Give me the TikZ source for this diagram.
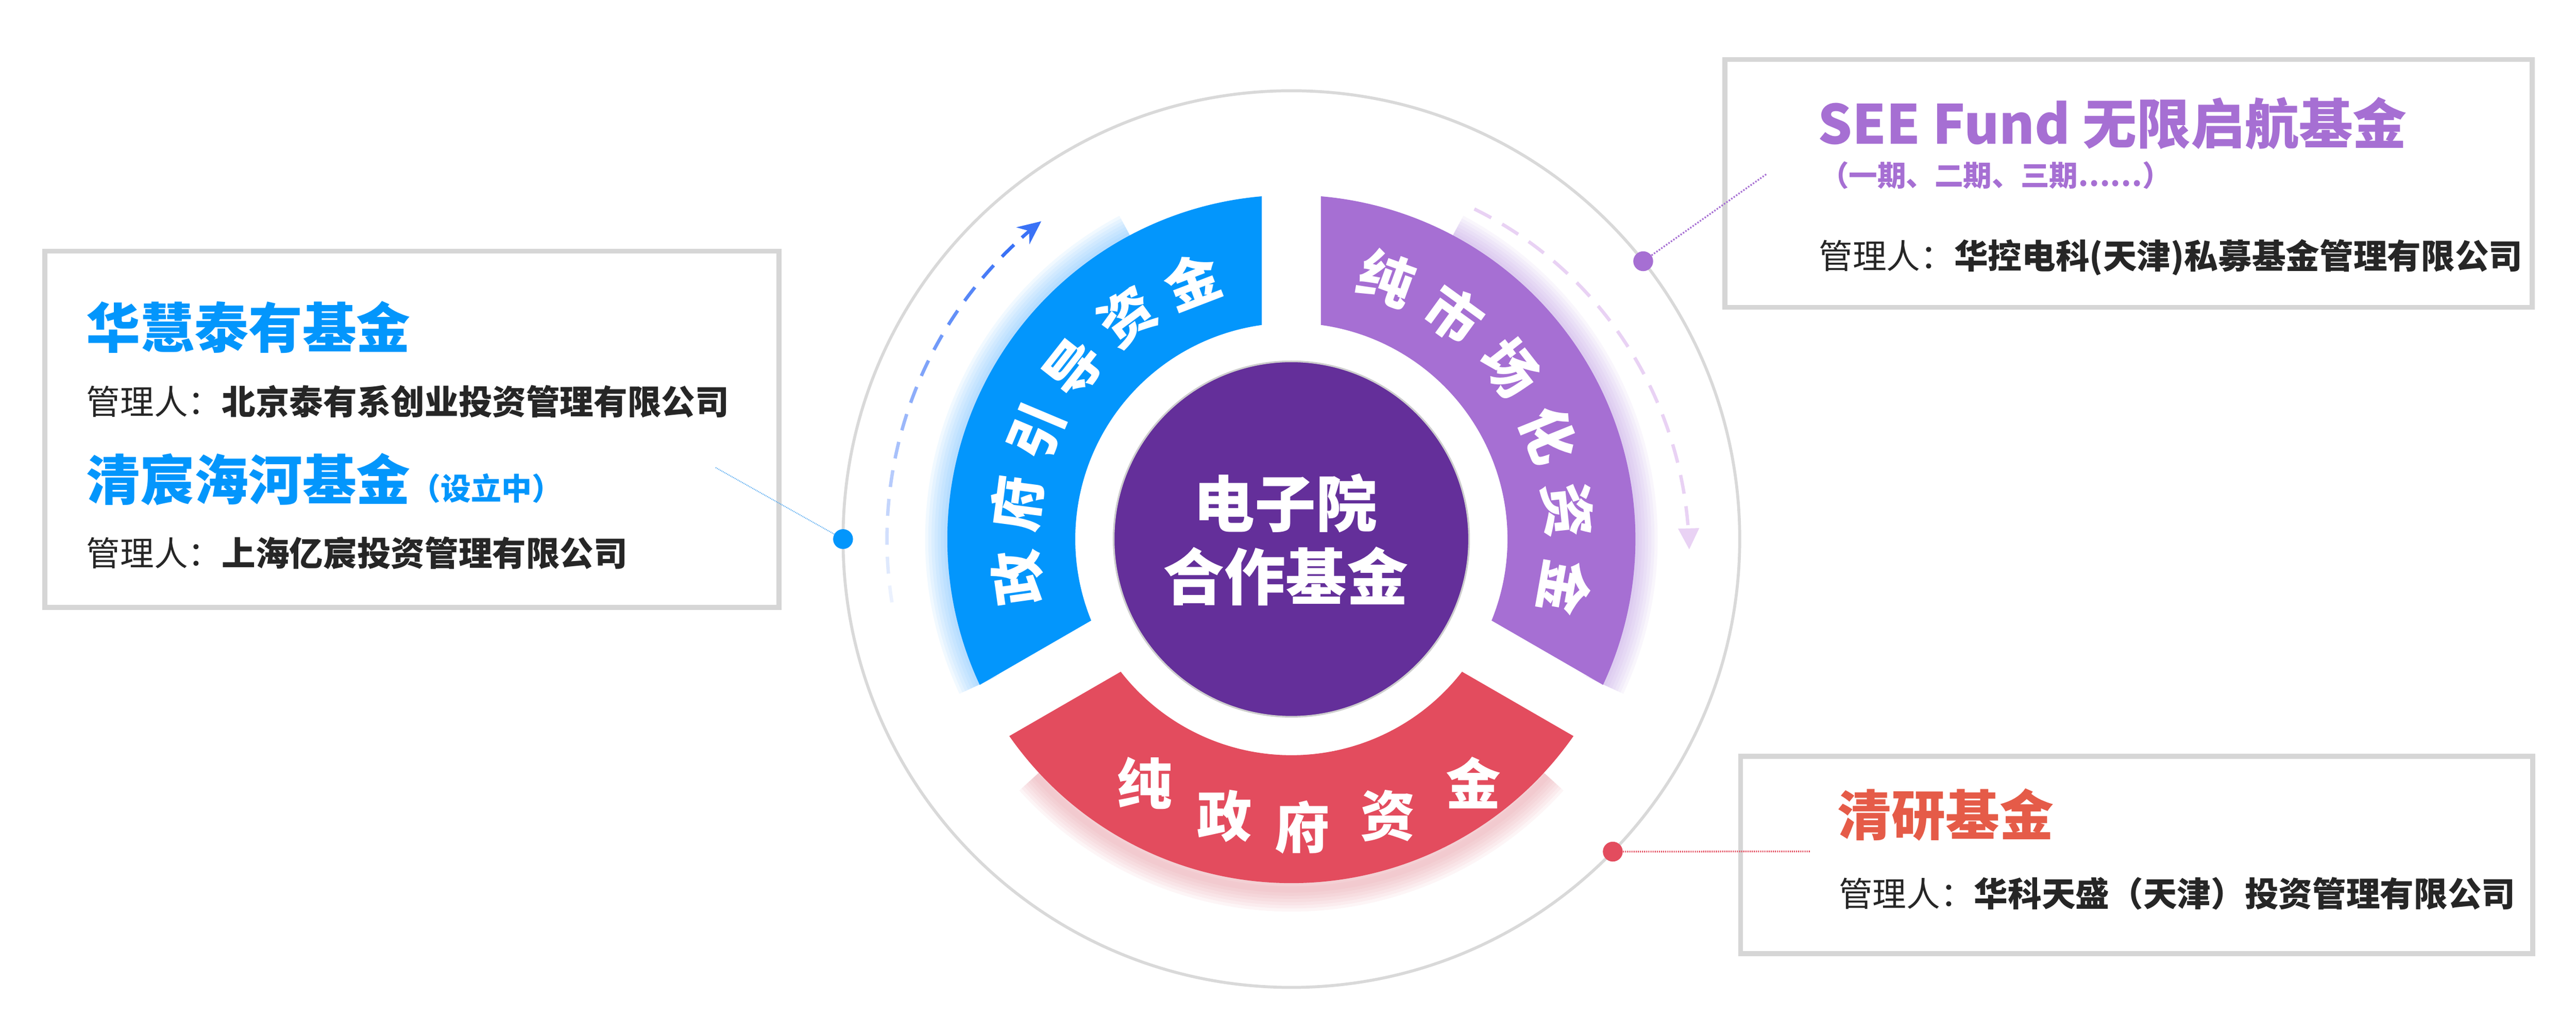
\documentclass[tikz,border=0pt]{standalone}
\usepackage{fontspec}
\newfontfamily\cjk{Noto Sans CJK SC}
\usetikzlibrary{arrows.meta,calc}
\definecolor{segblue}{RGB}{3,150,252}
\definecolor{segpurple}{RGB}{166,111,211}
\definecolor{segred}{RGB}{227,76,94}
\definecolor{corecol}{RGB}{100,47,154}
\definecolor{ringgray}{RGB}{217,217,217}
\definecolor{boxgray}{RGB}{214,214,214}
\definecolor{txtdark}{RGB}{38,38,38}
\definecolor{titlered}{RGB}{229,91,72}
\definecolor{arrowblue}{RGB}{58,114,246}
\definecolor{dashpurple}{RGB}{233,210,244}
\definecolor{glowblue}{RGB}{110,190,255}
\definecolor{glowpurple}{RGB}{185,145,228}
\definecolor{glowred}{RGB}{232,140,152}
\definecolor{linkblue}{RGB}{90,172,240}
\tikzset{
  infobox/.style={draw=boxgray, line width=0.12cm, fill=white, inner sep=0pt},
  fundtitle/.style={anchor=west, inner sep=0pt, font=\cjk\bfseries\fontsize{36.4}{40}\selectfont},
  mgrline/.style={anchor=west, inner sep=0pt, font=\cjk\fontsize{22.8}{26}\selectfont, text=txtdark},
  ringtxt/.style={inner sep=0pt, text=white, font=\cjk\bfseries\fontsize{37}{40}\selectfont},
  coretxt/.style={inner sep=0pt, text=white, font=\cjk\bfseries\fontsize{41.3}{46}\selectfont},
  linkdot/.style={circle, inner sep=0pt, minimum size=0.47cm},
  linkline/.style={line width=0.04cm, dash pattern=on 0.035cm off 0.035cm},
}
\begin{document}
\begin{tikzpicture}
\useasboundingbox (0,0) rectangle (61.02,24.08);
\fill[white] (0,0) rectangle (61.02,24.08);
\coordinate (C) at (30.59,11.31);

% outer thin ring
\draw[ringgray, line width=0.07cm] (C) circle[radius=10.62];

\begin{scope}[shift={(30.59,11.31)}]
  % glows
  \foreach \w in {0.15,0.3,...,1.1}{
    \draw[glowblue, line width=\w cm, opacity=0.09, line cap=butt] (118:8.15) arc[start angle=118, end angle=205, radius=8.15];
    \draw[glowpurple, line width=\w cm, opacity=0.08, line cap=butt] (-25:8.15) arc[start angle=-25, end angle=62, radius=8.15];
    \draw[glowred, line width=\w cm, opacity=0.08, line cap=butt, yshift=-0.15cm] (222:8.15) arc[start angle=222, end angle=318, radius=8.15];
  }
  % ring segments
  \fill[segblue] (94.93:8.15) arc[start angle=94.93, end angle=205.07, radius=8.15]
     -- (202.14:5.12) arc[start angle=202.14, end angle=97.86, radius=5.12] -- cycle;
  \fill[segpurple] (-25.07:8.15) arc[start angle=-25.07, end angle=85.07, radius=8.15]
     -- (82.14:5.12) arc[start angle=82.14, end angle=-22.14, radius=5.12] -- cycle;
  \fill[segred] (214.93:8.15) arc[start angle=214.93, end angle=325.07, radius=8.15]
     -- (322.14:5.12) arc[start angle=322.14, end angle=217.86, radius=5.12] -- cycle;

  % blue dashed arrow arc
  \foreach \i in {0,...,13}{
    \pgfmathsetmacro\aS{189-\i*4.1}
    \pgfmathsetmacro\aE{\aS-2.4}
    \pgfmathtruncatemacro\pc{10+\i*90/13}
    \draw[arrowblue!\pc!white, line width=0.08cm] (\aS:9.58) arc[start angle=\aS, end angle=\aE, radius=9.58];
  }
  \draw[arrowblue, line width=0.08cm, -{Stealth[length=0.55cm, width=0.5cm, inset=0.18cm]}]
     (131.8:9.58) arc[start angle=131.8, end angle=128.2, radius=9.58];

  % purple dashed arrow arc
  \draw[dashpurple, line width=0.08cm, dash pattern=on 0.45cm off 0.3cm,
        -{Triangle[length=0.5cm, width=0.48cm]}]
     plot[domain=61:-1.5, samples=60, smooth] ({(8.94+(61-\x)*0.0078)*cos(\x)}, {(8.94+(61-\x)*0.0078)*sin(\x)});

  % ring texts
  \foreach \ch [count=\k from 0] in {政,府,引,导,资,金}{
    \pgfmathsetmacro\ang{188-\k*15.4}
    \node[ringtxt, rotate=\ang-90] (tb\k) at (\ang:6.55) {\ch};
  }
  \foreach \ch [count=\k from 0] in {纯,市,场,化,资,金}{
    \pgfmathsetmacro\ang{70-\k*16}
    \node[ringtxt, rotate=\ang-90] (tp\k) at (\ang:6.58) {\ch};
  }
\end{scope}

\node[ringtxt] (tr0) at (27.11,5.53) {纯};
\node[ringtxt] (tr1) at (29.01,4.75) {政};
\node[ringtxt] (tr2) at (30.85,4.48) {府};
\node[ringtxt] (tr3) at (32.87,4.75) {资};
\node[ringtxt] (tr4) at (34.90,5.54) {金};

% core circle
\node[circle, fill=corecol, draw={rgb,255:red,205;green,205;blue,205}, line width=0.04cm, minimum size=8.42cm, inner sep=0pt] (core) at (C) {};
\node[coretxt] (core1) at (30.45,12.16) {电子院};
\node[coretxt] (core2) at (30.45,10.43) {合作基金};

% info boxes
\node[infobox, minimum width=17.39cm, minimum height=8.44cm] (boxL) at (9.755,13.91) {};
\node[infobox, minimum width=19.12cm, minimum height=5.87cm] (boxTR) at (50.42,19.735) {};
\node[infobox, minimum width=18.76cm, minimum height=4.67cm] (boxBR) at (50.61,3.825) {};

% left box texts
\node[fundtitle, text=segblue] (l1) at (2.04,16.33) {华慧泰有基金};
\node[mgrline] (l2) at (2.04,14.57) {管理人：{\bfseries 北京泰有系创业投资管理有限公司}};
\node[fundtitle, text=segblue] (l3) at (2.04,12.72) {清宸海河基金{\fontsize{20.5}{24}\selectfont （设立中）}};
\node[mgrline] (l4) at (2.04,10.98) {管理人：{\bfseries 上海亿宸投资管理有限公司}};

% top right box texts
\node[fundtitle, text=segpurple] (r1) at (43.05,21.15) {SEE Fund 无限启航基金};
\node[anchor=west, inner sep=0pt, text=segpurple, font=\cjk\bfseries\fontsize{19.3}{22}\selectfont] (r2) at (43.11,19.93) {（一期、二期、三期……）};
\node[mgrline] (r3) at (43.08,17.98) {管理人：{\bfseries 华控电科(天津)私募基金管理有限公司}};

% bottom right box texts
\node[fundtitle, text=titlered] (r4) at (43.52,4.78) {清研基金};
\node[mgrline] (r5) at (43.55,2.91) {管理人：{\bfseries 华科天盛（天津）投资管理有限公司}};

% connector dots and lines
\node[linkdot, fill=segblue] (dotB) at ($(C)+(180:10.62)$) {};
\node[linkdot, fill=segpurple] (dotP) at ($(C)+(38.3:10.62)$) {};
\node[linkdot, fill=segred] (dotR) at ($(C)+(-44.2:10.62)$) {};
\coordinate (endB) at (16.94,13.01);
\coordinate (endP) at (41.85,19.96);
\coordinate (endR) at (42.87,3.91);
\draw[linkline, linkblue, line width=0.025cm, dash pattern=on 0.02cm off 0.02cm] (dotB) -- (endB);
\draw[linkline, segpurple] (dotP) -- (endP);
\draw[linkline, segred, dash pattern=on 0.025cm off 0.025cm] (dotR) -- (endR);
\end{tikzpicture}
\end{document}
